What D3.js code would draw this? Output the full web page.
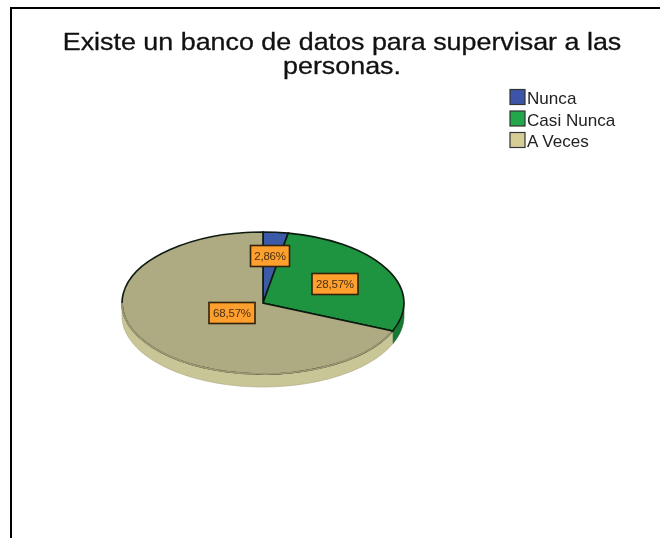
<!DOCTYPE html>
<html><head><meta charset="utf-8">
<script src="https://cdn.jsdelivr.net/npm/d3@7"></script>
<style>html,body{margin:0;padding:0;background:#fff}svg{display:block;filter:blur(.45px)}</style>
</head><body><div id="c"></div>
<script>
const categories = ["Nunca", "Casi Nunca", "A Veces"];
const percents = [2.86, 28.57, 68.57];
const labels = ["2,86%", "28,57%", "68,57%"];
const colors = ["#3b5aa8", "#1f9440", "#aeaa82"];
const sideColors = ["#2a4280", "#177a34", "#c8c596"];
const legendColors = ["#3d55a8", "#22a84a", "#d6cc96"];
const titleLines = ["Existe un banco de datos para supervisar a las", "personas."];

const W = 660, H = 538;
const cx = 263, cy = 303, rx = 141, ry = 71, depth = 13;
const svg = d3.select("#c").append("svg").attr("width", W).attr("height", H);
svg.append("rect").attr("width", W).attr("height", H).attr("fill", "#fff");

// frame
svg.append("path").attr("d", `M11,${H}V8H${W}`).attr("fill", "none").attr("stroke", "#000").attr("stroke-width", 2);

// title
svg.append("g").selectAll("text").data(titleLines).join("text")
  .attr("transform", (d, i) => `translate(342,${50 + i * 24}) scale(1.12,1)`)
  .attr("text-anchor", "middle")
  .attr("font-family", "Liberation Sans").attr("font-size", 24)
  .attr("stroke", "#111").attr("stroke-width", .3)
  .attr("fill", "#111").text(d => d);

// pie
const arcs = d3.pie().sort(null).value(d => d)(percents);
const arcGen = d3.arc().innerRadius(0).outerRadius(rx);
const py = ry / rx;
const ex = a => cx + rx * Math.sin(a), ey = a => cy - ry * Math.cos(a);
const line = d3.line();

// side wall, only the front half of the rim
const sides = svg.append("g");
arcs.forEach((a, i) => {
  const s = Math.max(a.startAngle, Math.PI / 2), e = Math.min(a.endAngle, 3 * Math.PI / 2);
  if (e <= s) return;
  const angs = d3.range(0, 61).map(k => s + (e - s) * k / 60);
  const top = angs.map(t => [ex(t), ey(t)]);
  const bot = angs.slice().reverse().map(t => [ex(t), ey(t) + depth]);
  sides.append("path").attr("d", line(top.concat(bot)) + "Z")
    .attr("fill", sideColors[i]).attr("stroke", i === 1 ? "#0f5a28" : "#a9a67e").attr("stroke-width", .6);
});

// top surface
svg.append("g").attr("transform", `translate(${cx},${cy}) scale(1,${py})`)
  .selectAll("path").data(arcs).join("path")
  .attr("d", arcGen)
  .attr("fill", (d, i) => colors[i])
  .attr("stroke", "#0c1a10").attr("stroke-width", 1.6)
  .attr("vector-effect", "non-scaling-stroke");
// soften the front rim of the tan slice
const t = arcs[2], fs = Math.max(t.startAngle, Math.PI / 2) + .02, fe = Math.min(t.endAngle, 3 * Math.PI / 2);
svg.append("path").attr("d", line(d3.range(0, 61).map(k => { const a = fs + (fe - fs) * k / 60; return [ex(a), ey(a)]; })))
  .attr("fill", "none").attr("stroke", "#9b9873").attr("stroke-width", 1.8);

// labels
const labelPos = [[270, 256], [335, 284], [232, 313]];
const lg = svg.append("g").selectAll("g").data(labels).join("g")
  .attr("transform", (d, i) => `translate(${labelPos[i][0]},${labelPos[i][1]})`);
lg.append("rect").attr("x", (d, i) => i === 0 ? -19.5 : -23).attr("y", -10.5)
  .attr("width", (d, i) => i === 0 ? 39 : 46).attr("height", 21)
  .attr("fill", "#ff9f2e").attr("stroke", "#33210a").attr("stroke-width", 1.6);
lg.append("text").attr("text-anchor", "middle").attr("y", 4)
  .attr("font-family", "Liberation Sans").attr("font-size", 11.5).attr("letter-spacing", -.2)
  .attr("fill", "#4a3010").text(d => d);

// legend
const leg = svg.append("g").selectAll("g").data(categories).join("g")
  .attr("transform", (d, i) => `translate(510,${89.5 + i * 21.5})`);
leg.append("rect").attr("width", 15).attr("height", 15)
  .attr("fill", (d, i) => legendColors[i]).attr("stroke", "#333").attr("stroke-width", 1.2);
leg.append("text").attr("transform", "translate(17,14.5) scale(1.07,1)")
  .attr("font-family", "Liberation Sans").attr("font-size", 16)
  .attr("fill", "#222").text(d => d);
</script></body></html>
